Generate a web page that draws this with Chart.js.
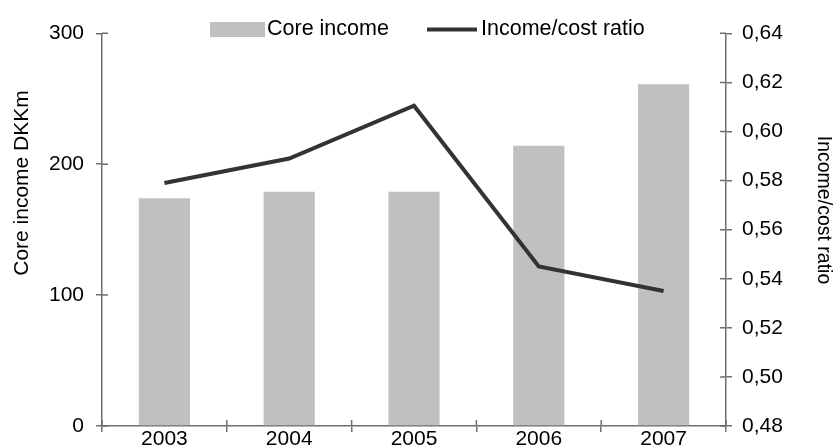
<!DOCTYPE html>
<html>
<head>
<meta charset="utf-8">
<script src="https://cdn.jsdelivr.net/npm/chart.js@4.4.1/dist/chart.umd.min.js"></script>
<style>
  body { margin: 0; background: #fff; }
  #wrap { width: 837px; height: 446px; }
</style>
</head>
<body>
<div id="wrap"><canvas id="chart"></canvas></div>
<script>
const years = ["2003", "2004", "2005", "2006", "2007"];
const coreIncome = [174, 179, 179, 214, 261];
const incomeCostRatio = [0.579, 0.589, 0.6105, 0.545, 0.535];
const leftTicks = [0, 100, 200, 300];
const rightTicks = [0.48, 0.50, 0.52, 0.54, 0.56, 0.58, 0.60, 0.62, 0.64];
const leftTitle = "Core income DKKm";
const rightTitle = "Income/cost ratio";

const axisColor = "#6e6e6e";
const fontFamily = '"Liberation Sans", Arial, Helvetica, sans-serif';
Chart.defaults.font.family = fontFamily;
Chart.defaults.color = "#000";

// short tick marks on the inner side of each axis (the reference ticks cross the axis)
const innerTicks = {
  id: "innerTicks",
  afterDatasetsDraw(chart) {
    const { ctx, chartArea, scales } = chart;
    ctx.save();
    ctx.strokeStyle = axisColor;
    ctx.lineWidth = 1.5;
    ctx.beginPath();
    scales.y.ticks.forEach(t => {
      const py = scales.y.getPixelForValue(t.value);
      ctx.moveTo(chartArea.left, py);
      ctx.lineTo(chartArea.left + 6, py);
    });
    scales.y1.ticks.forEach(t => {
      const py = scales.y1.getPixelForValue(t.value);
      ctx.moveTo(chartArea.right, py);
      ctx.lineTo(chartArea.right - 6, py);
    });
    const step = scales.x.width / years.length;
    for (let i = 0; i <= years.length; i++) {
      const px = scales.x.left + i * step;
      ctx.moveTo(px, chartArea.bottom);
      ctx.lineTo(px, chartArea.bottom - 6);
    }
    ctx.stroke();
    ctx.restore();
  }
};

// legend overlaps the top of the plot and the axis titles sit off-centre,
// so both are drawn by hand
const labelsPlugin = {
  id: "labelsPlugin",
  afterDraw(chart) {
    const ctx = chart.ctx;
    const [bars, line] = chart.data.datasets;
    const cy = 29.5;
    ctx.save();
    ctx.font = "21.5px " + fontFamily;
    ctx.textBaseline = "middle";
    ctx.fillStyle = bars.backgroundColor;
    ctx.fillRect(210, 22, 55, 15);
    ctx.fillStyle = "#000";
    ctx.fillText(bars.label, 267, cy);
    ctx.strokeStyle = line.borderColor;
    ctx.lineWidth = 4;
    ctx.beginPath();
    ctx.moveTo(427, cy);
    ctx.lineTo(477, cy);
    ctx.stroke();
    ctx.fillText(line.label, 481, cy);

    ctx.textAlign = "center";
    ctx.textBaseline = "alphabetic";
    ctx.font = "21px " + fontFamily;
    ctx.save();
    ctx.translate(28, 183);
    ctx.rotate(-Math.PI / 2);
    ctx.fillText(leftTitle, 0, 0);
    ctx.restore();
    ctx.font = "19.5px " + fontFamily;
    ctx.save();
    ctx.translate(818, 210);
    ctx.rotate(Math.PI / 2);
    ctx.fillText(rightTitle, 0, 0);
    ctx.restore();
    ctx.restore();
  }
};

new Chart(document.getElementById("chart"), {
  type: "bar",
  data: {
    labels: years,
    datasets: [
      {
        label: "Core income",
        data: coreIncome,
        backgroundColor: "#c0c0c0",
        borderWidth: 0,
        barPercentage: 0.41,
        categoryPercentage: 1,
        yAxisID: "y",
        order: 1
      },
      {
        type: "line",
        label: "Income/cost ratio",
        data: incomeCostRatio,
        borderColor: "#333333",
        borderWidth: 4,
        pointRadius: 0,
        tension: 0,
        fill: false,
        yAxisID: "y1",
        order: 0
      }
    ]
  },
  plugins: [innerTicks, labelsPlugin],
  options: {
    responsive: true,
    maintainAspectRatio: false,
    animation: false,
    layout: { padding: { top: 33.3, left: 0, right: 0, bottom: 0 } },
    plugins: {
      legend: { display: false },
      tooltip: { enabled: false }
    },
    scales: {
      x: {
        grid: { drawOnChartArea: false, tickLength: 6, color: axisColor, lineWidth: 1.5 },
        border: { color: axisColor, width: 1.5 },
        ticks: {
          font: { size: 21, lineHeight: 0.667 },
          padding: 0,
          maxRotation: 0,
          autoSkip: false
        },
        afterFit(s) { s.height = 20; }
      },
      y: {
        position: "left",
        min: 0,
        max: 300,
        afterBuildTicks(s) { s.ticks = leftTicks.map(v => ({ value: v })); },
        grid: { drawOnChartArea: false, tickLength: 6, color: axisColor, lineWidth: 1.5 },
        border: { color: axisColor, width: 1.5 },
        ticks: { font: { size: 21, lineHeight: 0.5 }, padding: 12 },
        afterFit(s) { s.width = 102; }
      },
      y1: {
        position: "right",
        min: 0.48,
        max: 0.64,
        afterBuildTicks(s) { s.ticks = rightTicks.map(v => ({ value: v })); },
        grid: { drawOnChartArea: false, tickLength: 6, color: axisColor, lineWidth: 1.5 },
        border: { color: axisColor, width: 1.5 },
        ticks: {
          font: { size: 21, lineHeight: 0.5 },
          padding: 10,
          callback: v => v.toFixed(2).replace(".", ",")
        },
        afterFit(s) { s.width = 111; }
      }
    }
  }
});
</script>
</body>
</html>
